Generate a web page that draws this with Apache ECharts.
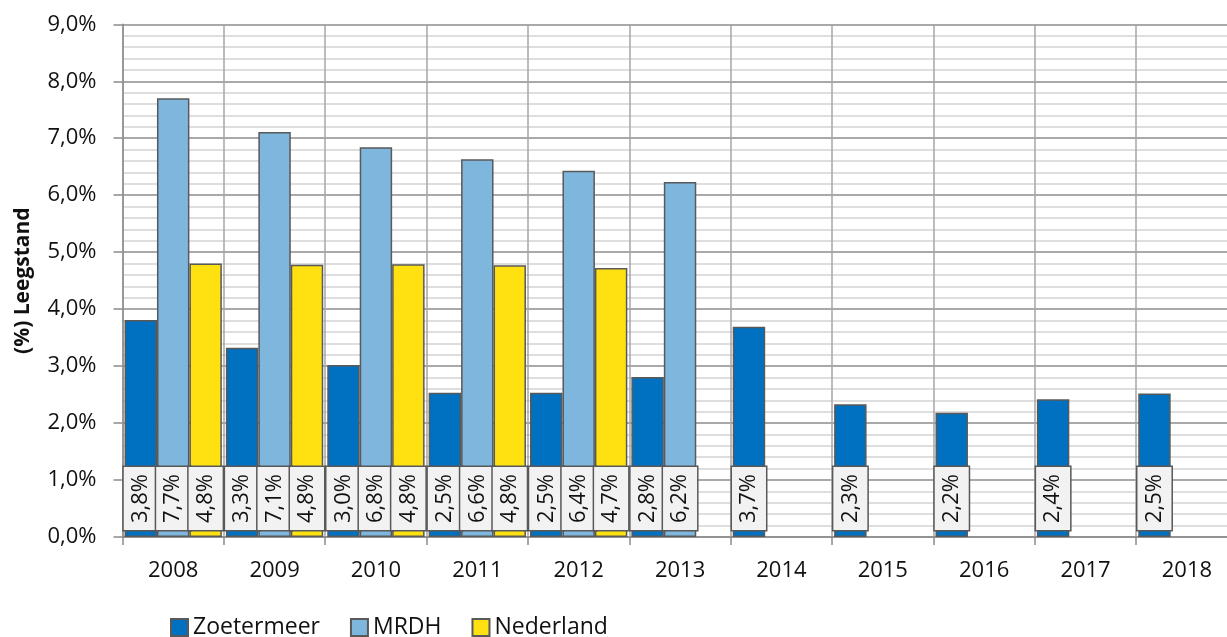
<!DOCTYPE html>
<html>
<head>
<meta charset="utf-8">
<script src="https://cdn.jsdelivr.net/npm/echarts@6/dist/echarts.min.js"></script>
<style>
  html, body { margin: 0; padding: 0; background: #fff; }
  #chart { width: 1227px; height: 637px; }
</style>
</head>
<body>
<div id="chart"></div>
<script>
// jaren op de x-as
const years = ["2008", "2009", "2010", "2011", "2012", "2013", "2014", "2015", "2016", "2017", "2018"];

// leegstand in procenten
const zoetermeer = [3.81, 3.32, 3.02, 2.53, 2.53, 2.81, 3.69, 2.33, 2.18, 2.42, 2.52];
const mrdh = [7.70, 7.11, 6.84, 6.63, 6.43, 6.23, null, null, null, null, null];
const nederland = [4.80, 4.78, 4.79, 4.77, 4.72, null, null, null, null, null, null];

const seriesNames = ["Zoetermeer", "MRDH", "Nederland"];
const seriesColors = ["#0070C0", "#7FB6DD", "#FFE010"];

const FONT = "Open Sans";

const pct = (v) => v.toFixed(1).replace(".", ",") + "%";

const chart = echarts.init(document.getElementById("chart"));

const makeSeries = (name, data, color) => ({
  name: name,
  type: "bar",
  data: data,
  barGap: "0%",
  barCategoryGap: "4%",
  itemStyle: {
    color: color,
    borderColor: "#595959",
    borderWidth: 1.5,
  },
  label: {
    show: true,
    position: "insideBottom",
    distance: 7,
    rotate: 90,
    align: "left",
    verticalAlign: "middle",
    fontFamily: FONT,
    fontSize: 22,
    lineHeight: 22,
    color: "#111",
    backgroundColor: "#F2F2F2",
    borderColor: "#595959",
    borderWidth: 1.5,
    padding: [6, 7, 6, 7],
    formatter: (p) => pct(p.value),
  },
});

chart.setOption({
  animation: false,
  backgroundColor: "#ffffff",
  grid: {
    left: 122.5,
    right: -10.6,
    top: 24.3,
    bottom: 100,
    outerBoundsMode: "none",
  },
  legend: {
    left: 170,
    bottom: -2,
    padding: 0,
    itemWidth: 17,
    itemHeight: 17,
    itemGap: 30,
    icon: "rect",
    textStyle: {
      fontFamily: FONT,
      fontSize: 23,
      color: "#111",
    },
    data: seriesNames,
  },
  xAxis: {
    type: "category",
    data: years,
    axisLine: { lineStyle: { color: "#8c8c8c", width: 1.5 } },
    axisTick: { show: true, length: 8, lineStyle: { color: "#8c8c8c", width: 1.5 } },
    axisLabel: {
      margin: 23,
      fontFamily: FONT,
      fontSize: 22,
      color: "#111",
    },
    splitLine: { show: true, lineStyle: { color: "#a6a6a6", width: 1.5 } },
  },
  yAxis: {
    type: "value",
    min: 0,
    max: 9,
    interval: 1,
    name: "(%) Leegstand",
    nameLocation: "middle",
    nameGap: 89,
    nameTextStyle: {
      fontFamily: FONT,
      fontSize: 21,
      fontWeight: "bold",
      color: "#111",
    },
    axisLine: { show: true, lineStyle: { color: "#8c8c8c", width: 1.5 } },
    axisTick: { show: true, length: 9, lineStyle: { color: "#8c8c8c", width: 1.5 } },
    axisLabel: {
      margin: 26,
      fontFamily: FONT,
      fontSize: 22,
      color: "#111",
      formatter: (v) => pct(v),
    },
    splitLine: { show: true, lineStyle: { color: "#8c8c8c", width: 1.5 } },
    minorTick: { show: false, splitNumber: 5 },
    minorSplitLine: { show: true, lineStyle: { color: "#d4d4d4", width: 1.5 } },
  },
  series: [
    makeSeries(seriesNames[0], zoetermeer, seriesColors[0]),
    makeSeries(seriesNames[1], mrdh, seriesColors[1]),
    makeSeries(seriesNames[2], nederland, seriesColors[2]),
  ],
});
</script>
</body>
</html>
